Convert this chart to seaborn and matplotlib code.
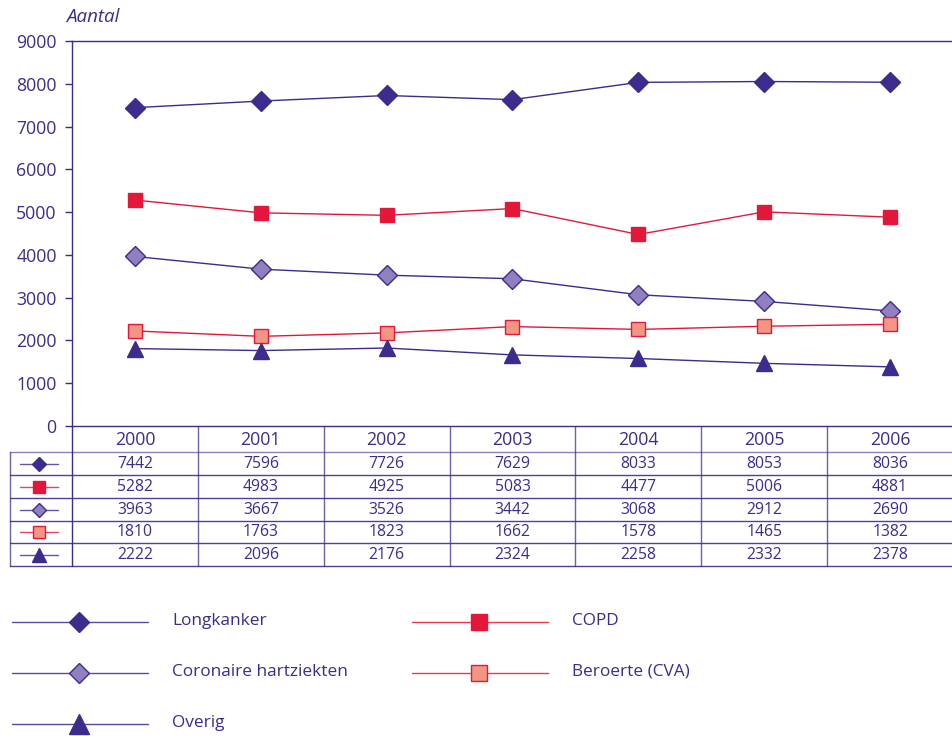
import numpy as np
import pandas as pd
import seaborn as sns
import matplotlib.pyplot as plt

sns.set_theme(style="white")
plt.rcParams['font.family'] = ['Open Sans', 'DejaVu Sans']

# Data
jaren = ['2000', '2001', '2002', '2003', '2004', '2005', '2006']
longkanker = [7442, 7596, 7726, 7629, 8033, 8053, 8036]
copd = [5282, 4983, 4925, 5083, 4477, 5006, 4881]
coronaire = [3963, 3667, 3526, 3442, 3068, 2912, 2690]
beroerte = [2222, 2096, 2176, 2324, 2258, 2332, 2378]
overig = [1810, 1763, 1823, 1662, 1578, 1465, 1382]

PURPLE = '#3d2b8e'
LILAC = '#9080c0'
RED = '#e4173a'
SALMON = '#f29585'

# style per series: line colour, marker, face, edge, size in plot, size in legend, size in table
styles = {
    'Longkanker': dict(color=PURPLE, marker='D', mfc=PURPLE, mec=PURPLE, ms=10.5, lms=10.5, tms=7),
    'COPD': dict(color=RED, marker='s', mfc=RED, mec=RED, ms=10, lms=11, tms=8.5),
    'Coronaire hartziekten': dict(color=PURPLE, marker='D', mfc=LILAC, mec=PURPLE, ms=10.5, lms=10.5, tms=7),
    'Beroerte (CVA)': dict(color=RED, marker='s', mfc=SALMON, mec=RED, ms=10, lms=11, tms=8.5),
    'Overig': dict(color=PURPLE, marker='^', mfc=PURPLE, mec=PURPLE, ms=11, lms=15, tms=9.5),
}
series = {
    'Longkanker': longkanker,
    'COPD': copd,
    'Coronaire hartziekten': coronaire,
    'Beroerte (CVA)': beroerte,
    'Overig': overig,
}
# rows of the data table as printed in the source (last two value rows are swapped there)
table_rows = [
    ('Longkanker', longkanker),
    ('COPD', copd),
    ('Coronaire hartziekten', coronaire),
    ('Beroerte (CVA)', overig),
    ('Overig', beroerte),
]

W, H = 953, 736
fig = plt.figure(figsize=(W / 100, H / 100), dpi=100)

# overlay in pixel coordinates for table and legend
ov = fig.add_axes([0, 0, 1, 1])
ov.set_xlim(0, W)
ov.set_ylim(H, 0)
ov.axis('off')

x0, x1 = 72, 953
y_top, y_zero = 41, 426
ax = fig.add_axes([x0 / W, 1 - y_zero / H, (x1 - x0) / W, (y_zero - y_top) / H])
ax.patch.set_alpha(0)

xs = np.arange(len(jaren))
for name, vals in series.items():
    st = styles[name]
    sns.lineplot(x=xs, y=vals, ax=ax, color=st['color'], lw=1,
                 marker=st['marker'], markersize=st['ms'],
                 markerfacecolor=st['mfc'], markeredgecolor=st['mec'],
                 markeredgewidth=1, clip_on=False, zorder=3)

ax.set_xlim(-0.5, len(jaren) - 0.5)
ax.set_ylim(0, 9000)
ax.set_yticks(range(0, 9001, 1000))
ax.set_xticks([])
ax.tick_params(axis='y', which='both', left=True, length=5, width=1,
               color=PURPLE, labelcolor=PURPLE, labelsize=12.7, pad=6)
ax.spines['right'].set_visible(False)
for s in ['left', 'top', 'bottom']:
    ax.spines[s].set_color(PURPLE)
    ax.spines[s].set_linewidth(1)
ax.set_xlabel('')
ax.set_ylabel('')
ax.text(-0.007, 1.04, 'Aantal', transform=ax.transAxes, ha='left', va='bottom',
        fontsize=13.5, style='italic', color=PURPLE)

# table
colw = (x1 - x0) / len(jaren)
row_edges = [452, 475, 498, 521, 543, 566]
ov.plot([x0, x0], [y_zero, row_edges[-1]], color=PURPLE, lw=1)
for i in range(1, len(jaren)):
    xv = x0 + i * colw
    ov.plot([xv, xv], [y_zero, row_edges[-1]], color=PURPLE, lw=1, alpha=0.75)
ov.plot([10, 10], [row_edges[0], row_edges[-1]], color=PURPLE, lw=1, alpha=0.75)
for k, ye in enumerate(row_edges):
    ov.plot([10, x1], [ye, ye], color=PURPLE, lw=1, alpha=0.6 if k == 0 else 0.9)

for i, j in enumerate(jaren):
    ov.text(x0 + (i + 0.5) * colw, 440, j, ha='center', va='center',
            fontsize=12.7, color=PURPLE)

for r, (name, vals) in enumerate(table_rows):
    yc = (row_edges[r] + row_edges[r + 1]) / 2
    st = styles[name]
    ov.plot([20, 58], [yc, yc], color=st['color'], lw=1, alpha=0.8)
    ov.plot([39], [yc], marker=st['marker'], ms=st['tms'], mfc=st['mfc'],
            mec=st['mec'], mew=1, ls='none')
    for i, v in enumerate(vals):
        ov.text(x0 + (i + 0.5) * colw, yc + 0.5, str(v), ha='center', va='center',
                fontsize=11.3, color=PURPLE)

# legend
legend_pos = {
    'Longkanker': (12, 622),
    'Coronaire hartziekten': (12, 673),
    'Overig': (12, 724),
    'COPD': (412, 622),
    'Beroerte (CVA)': (412, 673),
}
for name, (lx, ly) in legend_pos.items():
    st = styles[name]
    ov.plot([lx, lx + 136], [ly, ly], color=st['color'], lw=1, alpha=0.85)
    ov.plot([lx + 67], [ly], marker=st['marker'], ms=st['lms'], mfc=st['mfc'],
            mec=st['mec'], mew=1, ls='none')
    ov.text(lx + 160, ly - 1, name, ha='left', va='center', fontsize=12.4, color=PURPLE)

fig.savefig('out.png', dpi=100)
